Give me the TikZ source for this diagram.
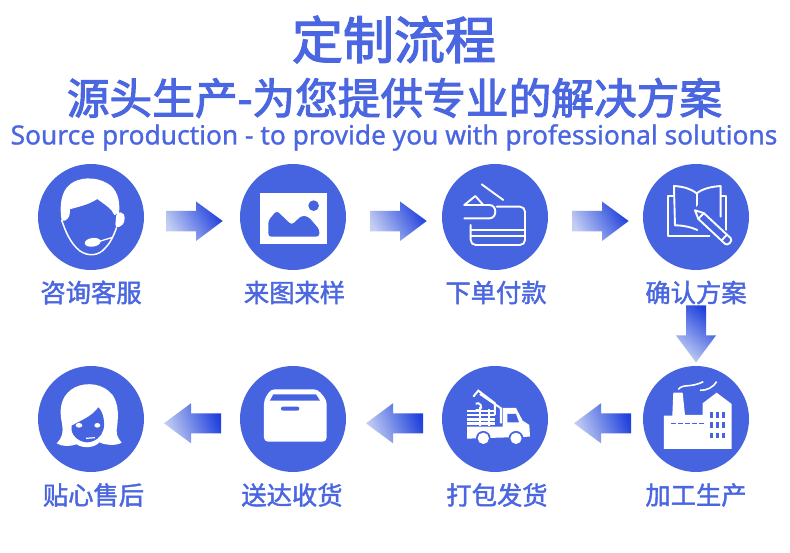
\documentclass[tikz,border=0pt]{standalone}
\usepackage{fontspec}
\usetikzlibrary{calc}
\setmainfont{Noto Sans}
\newfontfamily\cjk[FakeBold=2.4]{Noto Sans CJK SC}
\newfontfamily\cjkm[FakeBold=1.6]{Noto Sans CJK SC}
\newfontfamily\latinf[FakeBold=1]{Noto Sans}
\definecolor{brand}{HTML}{4663E0}
\definecolor{txtblue}{HTML}{4A66E0}
\definecolor{arrowlight}{HTML}{C4CFF3}
\definecolor{arrowdark}{HTML}{1F40DC}
\tikzset{
  stepdisc/.style={circle,fill=brand,minimum size=106pt,inner sep=0pt,outer sep=0pt},
  steplabel/.style={text=txtblue,font=\fontsize{25.3}{25}\cjkm,inner sep=0pt},
  arrowfwd/.style={left color=arrowlight,right color=arrowdark,shading angle=120},
  arrowback/.style={left color=arrowlight,right color=arrowdark,shading angle=110},
  icon/.style={draw=white,line width=1.9pt,line cap=round,line join=round},
  zoomA/.style={shift={(20,150)},x=0.3333pt,y=-0.3333pt},
  zoomB/.style={shift={(420,150)},x=0.3333pt,y=-0.3333pt},
  zoomC/.style={shift={(20,355)},x=0.3333pt,y=-0.3333pt},
  zoomD/.style={shift={(420,300)},x=0.3333pt,y=-0.3333pt},
}
\begin{document}
\begin{tikzpicture}[x=1pt,y=-1pt]
\useasboundingbox (0,0) rectangle (790,553);
\fill[white] (0,0) rectangle (790,553);
% headings
\node[text=txtblue,inner sep=0pt] (title) at (394,39.5) {\fontsize{51}{51}\cjk 定制流程};
\node[text=txtblue,inner sep=0pt] (sub) at (394.5,98) {\fontsize{42.7}{43}\cjk 源头生产-为您提供专业的解决方案};
\node[text=txtblue,inner sep=0pt] (eng) at (394,137.5) {\fontsize{26.35}{27}\latinf Source production - to provide you with professional solutions};
% discs
\node[stepdisc] (s1) at (91,217) {};
\node[stepdisc] (s2) at (293,217) {};
\node[stepdisc] (s3) at (495,217) {};
\node[stepdisc] (s4) at (696,217) {};
\node[stepdisc] (s5) at (696,419) {};
\node[stepdisc] (s6) at (495,419) {};
\node[stepdisc] (s7) at (293,419) {};
\node[stepdisc] (s8) at (91,419) {};
% labels
\node[steplabel] (l1) at (91,292.5) {咨询客服};
\node[steplabel] (l2) at (294.5,292.5) {来图来样};
\node[steplabel] (l3) at (496,292.5) {下单付款};
\node[steplabel] (l4) at (696,292.5) {确认方案};
\node[steplabel] (l5) at (696,495) {加工生产};
\node[steplabel] (l6) at (497,495) {打包发货};
\node[steplabel] (l7) at (292,495) {送达收货};
\node[steplabel] (l8) at (93.5,495) {贴心售后};
% arrows
\shade[arrowfwd] ($(s1.east)+(22,-6)$) -- ++(30,0) -- ++(0,-9.5) -- ++(26.7,19.5) -- ++(-26.7,20) -- ++(0,-9.5) -- ++(-30,0) -- cycle;
\shade[arrowfwd] ($(s2.east)+(24,-6)$) -- ++(30,0) -- ++(0,-9.5) -- ++(26.7,19.5) -- ++(-26.7,20) -- ++(0,-9.5) -- ++(-30,0) -- cycle;
\shade[arrowfwd] ($(s3.east)+(24,-6)$) -- ++(30,0) -- ++(0,-9.5) -- ++(26.7,19.5) -- ++(-26.7,20) -- ++(0,-9.5) -- ++(-30,0) -- cycle;
\shade[left color=arrowlight,right color=arrowdark,shading angle=140] ($(l4.south)+(-10,1)$) -- ++(20,0) -- ++(0,30) -- ++(10,0) -- ++(-20,27) -- ++(-20,-27) -- ++(10,0) -- cycle;
\shade[arrowback] ($(s5.west)+(-12,-5.7)$) -- ++(-30,0) -- ++(0,-10) -- ++(-27,20) -- ++(27,20) -- ++(0,-10) -- ++(30,0) -- cycle;
\shade[arrowback] ($(s6.west)+(-19,-5.7)$) -- ++(-30,0) -- ++(0,-10) -- ++(-27,20) -- ++(27,20) -- ++(0,-10) -- ++(30,0) -- cycle;
\shade[arrowback] ($(s7.west)+(-19,-5.7)$) -- ++(-30,0) -- ++(0,-10) -- ++(-27,20) -- ++(27,20) -- ++(0,-10) -- ++(30,0) -- cycle;
% icon 1 agent
\begin{scope}[zoomA]
\fill[white] (125,212) .. controls (118,170) and (122,125) .. (150,103) .. controls (175,82) and (225,78) .. (262,100) .. controls (290,115) and (302,150) .. (297,190) -- (283,195) .. controls (275,175) and (255,165) .. (232,147) .. controls (205,165) and (175,170) .. (150,178) .. controls (150,195) and (148,205) .. (135,212) -- cycle;
\draw[white,line width=1.5pt] (125,210) .. controls (135,240) and (150,280) .. (180,303) .. controls (205,320) and (235,318) .. (255,295) .. controls (270,280) and (280,260) .. (290,232);
\fill[white,rounded corners=4pt] (290,185) -- (315,190) -- (312,225) -- (285,235) -- cycle;
\fill[white,rotate around={8:(218,277)}] (218,277) ellipse (24 and 13);
\draw[white,line width=1.3pt] (235,275) -- (278,262);
% icon 2 picture
\fill[white] (721,130) rectangle (920,282);
\fill[brand] (881,167) circle (16);
\fill[brand,rounded corners=3pt] (745,260) -- (745,212) -- (770,182) -- (815,225) -- (845,197) -- (865,200) -- (898,238) -- (898,260) -- cycle;
\end{scope}
% icon 3 card
\begin{scope}[zoomB]
\draw[icon] (185,103) -- (250,150);
\draw[icon] (133,165) -- (166,138) -- (190,165);
\draw[icon] (133,165) -- (208,165) .. controls (232,165) and (232,205) .. (208,205) -- (133,205);
\draw[icon,rounded corners=5pt] (230,170) -- (315,170) -- (315,285) -- (152,285) -- (152,225);
\draw[icon] (152,240) -- (315,240);
\draw[icon] (152,258) -- (315,258);
% icon 4 book
\draw[icon] (830,130) .. controls (810,115) and (790,110) .. (762,108) -- (765,226) .. controls (790,226) and (815,232) .. (832,240);
\draw[icon] (830,130) .. controls (850,115) and (875,110) .. (902,108) -- (902,200);
\draw[icon] (830,130) -- (830,192);
\draw[icon] (760,137) -- (745,137) -- (745,258) -- (868,258);
\draw[icon] (905,138) -- (918,138) -- (918,240);
\begin{scope}[shift={(825,181)},rotate=-43]
\fill[brand] (-4,-18) rectangle (152,18);
\draw[icon] (0,0) -- (25,-12) -- (135,-12) .. controls (146,-12) and (146,12) .. (135,12) -- (25,12) -- cycle;
\draw[icon] (25,-12) -- (25,12);
\draw[icon] (120,-12) -- (120,12);
\end{scope}
\end{scope}
% icon 5 truck and icon 6 factory
\begin{scope}[zoomD]
\draw[white,line width=2pt] (160,290) -- (175,272) -- (225,310) -- (225,345);
\draw[white,line width=2pt] (180,282) -- (243,325) -- (243,370);
\draw[white,line width=2pt] (167,311) arc (60:300:-11);
\fill[white] (141,329) rectangle (225,336);
\fill[white] (141,342) rectangle (225,349);
\fill[white] (141,355) rectangle (225,362);
\fill[white] (141,367) rectangle (225,374);
\fill[white] (178,322) rectangle (183,378);
\fill[white] (205,328) rectangle (210,378);
\fill[white] (141,380) -- (248,380) -- (248,324) -- (288,324) -- (308,362) -- (328,375) -- (330,410) -- (141,416) -- cycle;
\fill[brand] (262,342) -- (288,342) -- (297,367) -- (262,367) -- cycle;
\foreach \wx in {190,288} {
  \fill[brand] (\wx,415) circle (22);
  \fill[white] (\wx,415) circle (17);
}
% factory
\fill[white] (732,347) -- (757,347) -- (760,278) -- (788,278) -- (795,345) -- (848,345) -- (848,310) -- (890,278) -- (935,312) -- (935,447) -- (732,447) -- cycle;
\draw[brand,line width=1.6pt,dash pattern=on 5pt off 2pt] (753,370) -- (853,370);
\foreach \cx in {870,888,905} \foreach \cy in {337,367,398} {
  \fill[brand] (\cx,\cy) rectangle ++(10,16);
}
\draw[white,line width=1.6pt] (775,268) .. controls (790,250) and (810,265) .. (850,245);
\draw[white,line width=1.6pt] (840,271) .. controls (860,272) and (880,262) .. (890,245);
\end{scope}
% icon 7 box and icon 8 lady
\begin{scope}[zoomC]
\fill[white,rounded corners=4pt] (752,103) -- (893,103) -- (920,135) -- (920,260) -- (732,260) -- (732,135) -- cycle;
\fill[brand] (760,118) -- (888,118) -- (900,137) -- (750,137) -- cycle;
\fill[brand,rounded corners=2pt] (783,155) rectangle (838,167);
% lady
\fill[white] (110,265) .. controls (125,250) and (132,235) .. (125,200) .. controls (115,150) and (130,115) .. (165,97) .. controls (200,80) and (250,85) .. (278,120) .. controls (298,150) and (295,190) .. (290,225) .. controls (288,245) and (300,255) .. (305,263) .. controls (290,272) and (260,272) .. (238,262) .. controls (225,278) and (190,282) .. (170,268) .. controls (150,275) and (125,275) .. (110,265) -- cycle;
\fill[brand] (155,212) .. controls (185,195) and (215,185) .. (235,157) .. controls (250,170) and (256,205) .. (250,225) .. controls (244,245) and (225,262) .. (200,262) .. controls (175,260) and (150,240) .. (155,212) -- cycle;
\fill[white] (177,211) ellipse (10 and 7);
\fill[white] (232,211) ellipse (9 and 7);
\draw[white,line width=1.2pt] (198,250) -- (225,248);
\end{scope}
\end{tikzpicture}
\end{document}
